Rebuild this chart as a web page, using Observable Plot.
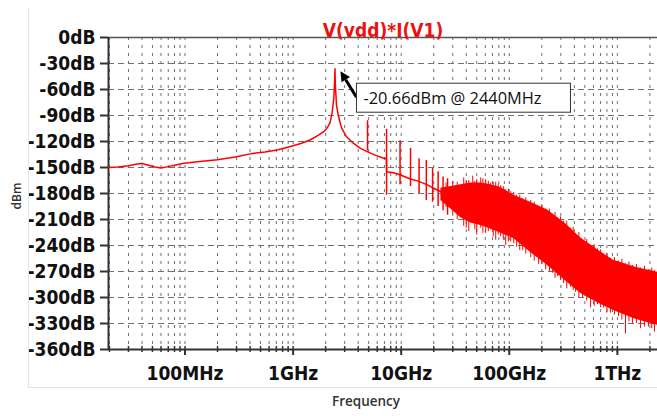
<!DOCTYPE html>
<html><head><meta charset="utf-8">
<script src="https://cdn.jsdelivr.net/npm/d3@7"></script>
<script src="https://cdn.jsdelivr.net/npm/@observablehq/plot@0.6"></script>
<style>
body{margin:0;background:#fff;}
#wrap{position:relative;width:657px;height:416px;overflow:hidden;background:#fff;}
#wrap svg{position:absolute;left:0;top:0;}
#border{position:absolute;left:28px;top:8px;width:640px;height:379px;border-left:1px solid #e4e4e4;border-bottom:1px solid #e4e4e4;}
</style></head><body><div id="wrap"></div>
<script>
// ---- texts ----
const title = "V(vdd)*I(V1)";
const yLabel = "dBm";
const xLabel = "Frequency";
const annotation = "-20.66dBm @ 2440MHz";

// ---- axes ----
const xDomain = [19.6e6, 2.35e12];
const yDomain = [-360, 0];
const yTicks = [0, -30, -60, -90, -120, -150, -180, -210, -240, -270, -300, -330, -360];
const xTicks = [1e8, 1e9, 1e10, 1e11, 1e12];
const xTickLabels = ["100MHz", "1GHz", "10GHz", "100GHz", "1THz"];

// ---- main trace (Hz, dBm) up to where the noise band starts ----
const mainFreq = [19.6e6, 24e6, 30e6, 36e6, 40e6, 46e6, 53e6, 60e6, 70e6, 82e6, 95e6, 130e6, 200e6, 300e6, 410e6, 550e6, 730e6,
  1.0e9, 1.2e9, 1.45e9, 1.7e9, 1.95e9, 2.1e9, 2.2e9, 2.3e9, 2.38e9, 2.42e9, 2.44e9, 2.46e9, 2.52e9, 2.62e9, 2.8e9, 3.1e9,
  3.6e9, 4.2e9, 4.9e9, 5.8e9, 6.8e9, 7.3e9, 7.34e9, 8.5e9, 10e9, 12e9, 14.6e9, 17.5e9, 20e9, 23.3e9];
const mainDb = [-150, -149.5, -148, -146, -145.5, -147.5, -149.5, -150.5, -149, -147, -145.5, -143.5, -141, -137.5, -134, -132, -129.5,
  -125, -122, -118, -113, -108, -103, -98, -86, -70, -52, -36, -55, -78, -90, -104, -114,
  -122, -128, -132, -136, -139, -140, -155, -156, -159, -163, -166, -170, -174, -178];

// ---- harmonic spurs (Hz, top dBm, bottom dBm) ----
const spurFreq = [4.88e9, 7.32e9, 9.76e9, 12.2e9, 14.64e9, 17.08e9, 19.52e9, 21.96e9, 24.4e9, 26.84e9];
const spurTop = [-96, -106, -119, -128, -140, -142, -151, -155, -161, -163];
const spurBottom = [-131, -182, -170, -172, -180, -188, -190, -195, -200, -205];

// ---- broadband noise envelope (Hz, upper dBm, lower dBm) ----
const bandFreq = [23.3e9, 28.8e9, 35.6e9, 44.0e9, 54.4e9, 67.3e9, 83.3e9, 109.8e9, 157.6e9, 226e9, 332e9, 456e9, 655e9, 920e9, 1.47e12, 2.35e12];
const bandTop = [-174, -172, -170, -168, -168, -170, -173, -182, -190, -199, -215, -231, -245, -257, -265, -271];
const bandBottom = [-188, -198, -208, -214, -217, -221, -226, -232, -248, -263, -281, -295, -306, -315, -325, -332];

// ---- individual noise excursions (GHz, high dBm, low dBm) ----
const noiseGHz = [26, 30, 33, 37.9, 40, 42.2, 45.9, 48, 50.0, 54.4, 57, 60.5, 64, 67.3, 71, 74.9, 79, 83.3, 88, 92.7, 98, 103, 110, 117, 125, 133, 142, 158, 170, 187, 200, 217, 235, 252, 265, 280, 298, 318, 340, 369, 390, 410, 440, 476, 520, 565, 610, 655, 700, 745, 800, 863, 940, 1024, 1100, 1188, 1280, 1378, 1500, 1634, 1780, 1937, 2080, 2203];
const noiseHi = [-168, -166, -167, -162, -165, -165, -160, -166, -164, -162, -163, -164, -166, -168, -167, -167, -169, -171, -172, -176, -175, -178, -179, -182, -182, -186, -185, -188, -190, -195, -193, -198, -198, -204, -202, -208, -207, -212, -212, -220, -219, -227, -225, -234, -233, -240, -239, -244, -245, -250, -249, -255, -254, -258, -256, -261, -259, -263, -262, -266, -264, -268, -266, -269];
const noiseLo = [-196, -204, -210, -218, -220, -224, -214, -222, -228, -220, -226, -226, -224, -222, -230, -234, -228, -230, -234, -240, -236, -236, -238, -242, -246, -246, -250, -254, -258, -262, -262, -268, -270, -272, -278, -276, -280, -284, -290, -288, -292, -294, -300, -300, -304, -312, -310, -308, -312, -312, -318, -318, -320, -322, -326, -342, -328, -330, -330, -336, -334, -334, -336, -340];

const red = "#ff0000";
const tickFont = "DejaVu Sans Condensed, DejaVu Sans, sans-serif";
const uiFont = "Open Sans, Noto Sans, sans-serif";

const main = mainFreq.map((f, i) => ({f, db: mainDb[i]}));
const spurs = spurFreq.map((f, i) => ({f, top: spurTop[i], bottom: spurBottom[i]}));
const band = bandFreq.map((f, i) => ({f, top: bandTop[i], bottom: bandBottom[i]}));
const noise = noiseGHz.map((g, i) => ({f: g * 1e9, hi: noiseHi[i], lo: noiseLo[i]}));
const gridX = d3.scaleLog().domain(xDomain).ticks();

const chart = Plot.plot({
  width: 657, height: 416,
  marginLeft: 108, marginTop: 37, marginRight: 0, marginBottom: 67,
  style: {background: "transparent"},
  x: {type: "log", domain: xDomain, axis: null},
  y: {domain: yDomain, axis: null},
  marks: [
    Plot.gridY(yTicks.slice(1, -1), {stroke: "#707070", strokeOpacity: 1, strokeWidth: 1, strokeDasharray: "6,4"}),
    Plot.gridX(gridX, {stroke: "#707070", strokeOpacity: 1, strokeWidth: 1, strokeDasharray: "3,5"}),
    // frame
    Plot.ruleY([yDomain[1]], {stroke: "#555", strokeWidth: 1.5}),
    Plot.ruleY([yDomain[0]], {stroke: "#333", strokeWidth: 2}),
    Plot.ruleX([xDomain[0]], {stroke: "#333", strokeWidth: 2}),
    // minor ticks on bottom axis
    Plot.ruleX(gridX, {y1: yDomain[0], y2: yDomain[0], insetTop: -3, insetBottom: -3, stroke: "#333", strokeWidth: 1.5}),
    Plot.axisY(yTicks, {anchor: "left", tickSize: 8, tickPadding: 5, strokeWidth: 2, stroke: "#333", fill: "#111",
      tickFormat: d => `${d}dB`, fontFamily: tickFont, fontWeight: "bold", fontSize: 19, label: null}),
    Plot.axisX(xTicks, {anchor: "bottom", tickSize: 6, tickPadding: 11, strokeWidth: 2, stroke: "#333", fill: "#111",
      tickFormat: d => xTickLabels[xTicks.indexOf(d)], fontFamily: tickFont, fontWeight: "bold", fontSize: 19, label: null}),
    // data
    Plot.areaY(band, {x: "f", y1: "bottom", y2: "top", fill: red}),
    Plot.ruleX(noise, {x: "f", y1: "lo", y2: "hi", stroke: red, strokeWidth: 1}),
    Plot.ruleX(spurs, {x: "f", y1: "bottom", y2: "top", stroke: red, strokeWidth: 1.5}),
    Plot.line(main, {x: "f", y: "db", stroke: red, strokeWidth: 1.5}),
    // texts
    Plot.text([title], {frameAnchor: "top", dy: -14.5, text: d => d, fill: "#ee1111", fontFamily: tickFont, fontWeight: "bold", fontSize: 19}),
    Plot.text([yLabel], {frameAnchor: "left", dx: -91, dy: 16, rotate: -90, text: d => d, fill: "#333", fontFamily: uiFont, fontWeight: 600, fontSize: 12}),
    Plot.text([xLabel], {frameAnchor: "bottom", dx: -17, dy: 56, text: d => d, fill: "#333", fontFamily: uiFont, fontWeight: 600, fontSize: 13.5})
  ]
});

document.getElementById("wrap").appendChild(chart);
const border = document.createElement("div");
border.id = "border";
document.getElementById("wrap").appendChild(border);

// annotation callout anchored to the peak through the chart's scales
const peakIdx = mainDb.indexOf(d3.max(mainDb));
const px = chart.scale("x").apply(mainFreq[peakIdx]);
const py = chart.scale("y").apply(mainDb[peakIdx]);
const svg = d3.select(chart);
const g = svg.append("g").attr("text-anchor", "start");
const tip = [px + 6, py + 3], tail = [px + 22, py + 29];
const vx = tip[0] - tail[0], vy = tip[1] - tail[1], len = Math.hypot(vx, vy);
const ux = vx / len, uy = vy / len, nx = -uy, ny = ux;
const hl = 10, hw = 5;
const bx = tip[0] - hl * ux, by = tip[1] - hl * uy;
g.append("line").attr("x1", tail[0]).attr("y1", tail[1]).attr("x2", bx).attr("y2", by)
  .attr("stroke", "#000").attr("stroke-width", 3);
g.append("path").attr("d", `M${tip[0]},${tip[1]}L${bx + hw * nx},${by + hw * ny}L${bx - hw * nx},${by - hw * ny}Z`).attr("fill", "#000");
g.append("rect").attr("x", px + 22).attr("y", py + 15).attr("width", 214).attr("height", 29)
  .attr("fill", "#fff").attr("stroke", "#333").attr("stroke-width", 1);
g.append("text").attr("x", px + 29).attr("y", py + 36).attr("text-anchor", "start").text(annotation)
  .attr("font-family", uiFont).attr("font-size", 16.4).attr("fill", "#111");
</script>
</body></html>
